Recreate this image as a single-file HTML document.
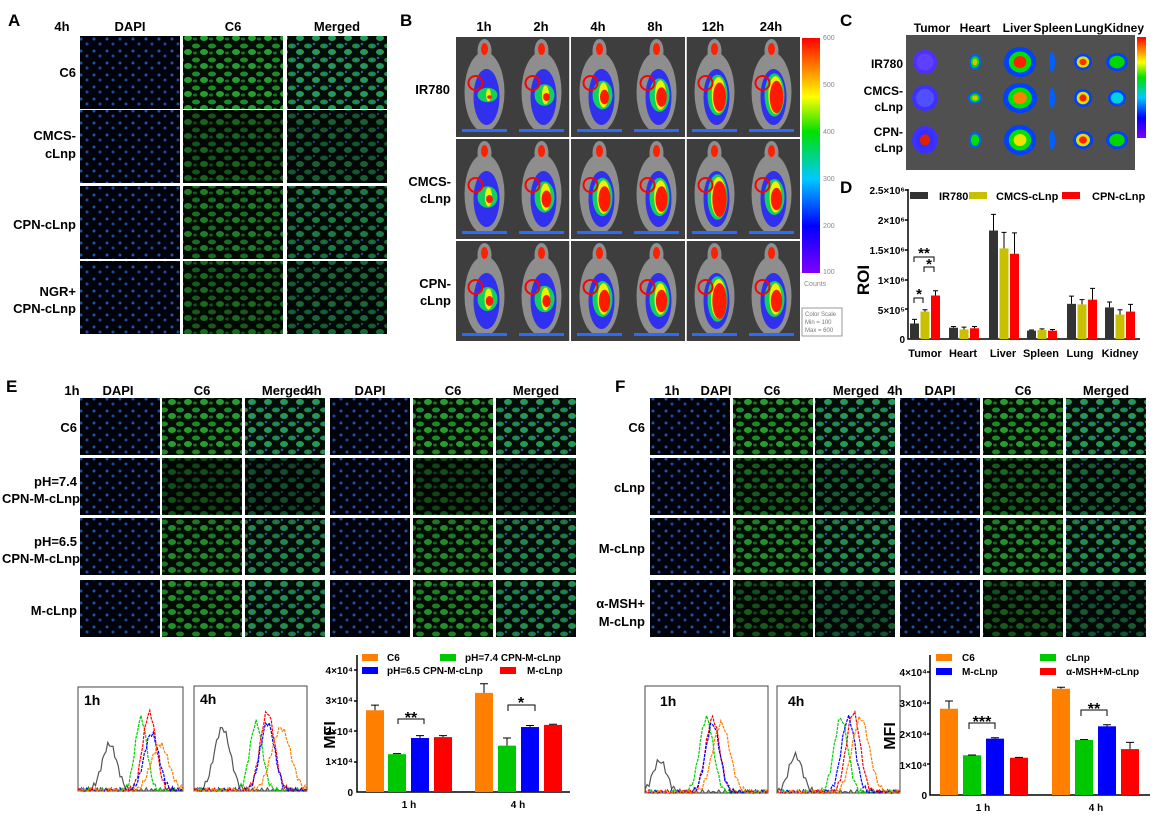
<!DOCTYPE html>
<html><head><meta charset="utf-8">
<style>
html,body{margin:0;padding:0;background:#fff;}
svg{display:block;font-family:"Liberation Sans",Arial,sans-serif;}
.b{font-weight:bold;}
</style></head><body>
<svg id="s" width="1173" height="816" viewBox="0 0 1173 816" xmlns="http://www.w3.org/2000/svg">
<defs>
<pattern id="dapi" width="13" height="12" patternUnits="userSpaceOnUse">
<rect width="13" height="12" fill="#020510"/>
<circle cx="3" cy="3" r="1.5" fill="#2f6fe0"/><circle cx="9" cy="8" r="1.5" fill="#2a62d0"/>
</pattern>
<pattern id="grn" width="16" height="14" patternUnits="userSpaceOnUse">
<rect width="16" height="14" fill="#031006"/>
<ellipse cx="4" cy="4" rx="4" ry="2.5" fill="#27a030"/><ellipse cx="12" cy="10" rx="4" ry="3" fill="#30b83a"/>
<ellipse cx="3" cy="11" rx="2" ry="1.5" fill="#1a8a24"/>
</pattern>
<pattern id="mrg" width="16" height="14" patternUnits="userSpaceOnUse">
<rect width="16" height="14" fill="#03100a"/>
<ellipse cx="4" cy="4" rx="4" ry="2.5" fill="#27a040"/><ellipse cx="12" cy="10" rx="4" ry="3" fill="#30b84a"/>
<circle cx="4" cy="4" r="1.4" fill="#2a9ab0"/><circle cx="12" cy="10" r="1.5" fill="#30a0c0"/><circle cx="10" cy="2" r="1.2" fill="#2f6fe0"/>
</pattern>
<linearGradient id="cb" x1="0" y1="1" x2="0" y2="0">
<stop offset="0" stop-color="#8000ff"/><stop offset="0.2" stop-color="#0000ff"/><stop offset="0.4" stop-color="#00c8ff"/><stop offset="0.6" stop-color="#00e000"/><stop offset="0.75" stop-color="#ffff00"/><stop offset="1" stop-color="#ff0000"/>
</linearGradient>
</defs>
<g id="g"></g>

<g class="b" font-size="17" fill="#000">
<text x="8" y="26">A</text><text x="400" y="26">B</text><text x="840" y="26">C</text><text x="840" y="193">D</text>
<text x="6" y="392">E</text><text x="615" y="392">F</text>
</g>

<g class="b" font-size="13" text-anchor="middle">
<text x="62" y="31">4h</text><text x="130" y="31">DAPI</text><text x="233" y="31">C6</text><text x="337" y="31">Merged</text>
</g>
<g class="b" font-size="13" text-anchor="end">
<text x="76" y="77">C6</text>
<text x="76" y="140">CMCS-</text><text x="76" y="158">cLnp</text>
<text x="76" y="229">CPN-cLnp</text>
<text x="76" y="296">NGR+</text><text x="76" y="313">CPN-cLnp</text>
</g>

<g class="b" font-size="13" text-anchor="middle">
<text x="484" y="31">1h</text><text x="541" y="31">2h</text><text x="598" y="31">4h</text><text x="655" y="31">8h</text><text x="713" y="31">12h</text><text x="771" y="31">24h</text>
</g>
<g class="b" font-size="13" text-anchor="end">
<text x="450" y="94">IR780</text>
<text x="451" y="186">CMCS-</text><text x="451" y="203">cLnp</text>
<text x="451" y="288">CPN-</text><text x="451" y="305">cLnp</text>
</g>
<rect x="802" y="38" width="18" height="235" fill="url(#cb)"/>
<g font-size="7" fill="#888"><text x="823" y="40">600</text><text x="823" y="87">500</text><text x="823" y="134">400</text><text x="823" y="181">300</text><text x="823" y="228">200</text><text x="823" y="274">100</text><text x="804" y="286">Counts</text></g>
<rect x="802" y="308" width="40" height="28" fill="#fff" stroke="#999"/>
<g font-size="6" fill="#777"><text x="805" y="316">Color Scale</text><text x="805" y="324">Min = 100</text><text x="805" y="332">Max = 600</text></g>

<g class="b" font-size="12" text-anchor="middle">
<text x="932" y="32">Tumor</text><text x="975" y="32">Heart</text><text x="1017" y="32">Liver</text><text x="1053" y="32">Spleen</text><text x="1089" y="32">Lung</text><text x="1124" y="32">Kidney</text>
</g>
<g class="b" font-size="12" text-anchor="end">
<text x="903" y="68">IR780</text>
<text x="903" y="95">CMCS-</text><text x="903" y="111">cLnp</text>
<text x="903" y="136">CPN-</text><text x="903" y="152">cLnp</text>
</g>
<rect x="1137" y="37" width="9" height="101" fill="url(#cb)"/>

<g class="b" font-size="10" text-anchor="end">
<text x="905" y="194">2.5×10⁶</text><text x="905" y="224">2×10⁶</text><text x="905" y="254">1.5×10⁶</text><text x="905" y="284">1×10⁶</text><text x="905" y="314">5×10⁵</text><text x="905" y="343">0</text>
</g>
<text class="b" font-size="17" transform="translate(869,280) rotate(-90)" text-anchor="middle">ROI</text>
<g stroke="#000" stroke-width="1.5" fill="none"><path d="M908,189 V339 H1140"/>
<path d="M905,190H908M905,220H908M905,250H908M905,280H908M905,309H908"/></g>
<g id="dbars"></g>
<rect x="910" y="192" width="18" height="7" fill="#333"/><text class="b" x="939" y="200" font-size="11">IR780</text>
<rect x="969" y="192" width="18" height="7" fill="#c8c000"/><text class="b" x="996" y="200" font-size="11">CMCS-cLnp</text>
<rect x="1062" y="192" width="18" height="7" fill="#f00"/><text class="b" x="1092" y="200" font-size="11">CPN-cLnp</text>
<g stroke="#000" stroke-width="1" fill="none"><path d="M914,303V298H923V303M924,272V267H934V272M914,262V257H934V262"/></g>
<g class="b" font-size="15" text-anchor="middle"><text x="919" y="299">*</text><text x="929" y="269">*</text><text x="924" y="258">**</text></g>
<g class="b" font-size="11" text-anchor="middle">
<text x="925" y="357">Tumor</text><text x="963" y="357">Heart</text><text x="1003" y="357">Liver</text><text x="1041" y="357">Spleen</text><text x="1080" y="357">Lung</text><text x="1120" y="357">Kidney</text>
</g>

<g class="b" font-size="13" text-anchor="middle">
<text x="72" y="395">1h</text><text x="118" y="395">DAPI</text><text x="202" y="395">C6</text><text x="285" y="395">Merged</text>
<text x="314" y="395">4h</text><text x="370" y="395">DAPI</text><text x="453" y="395">C6</text><text x="536" y="395">Merged</text>
</g>
<g class="b" font-size="13" text-anchor="end">
<text x="77" y="432">C6</text>
<text x="77" y="486">pH=7.4</text><text x="80" y="503">CPN-M-cLnp</text>
<text x="77" y="546">pH=6.5</text><text x="80" y="563">CPN-M-cLnp</text>
<text x="77" y="615">M-cLnp</text>
</g>
<g class="b" font-size="13" text-anchor="middle">
<text x="672" y="395">1h</text><text x="716" y="395">DAPI</text><text x="772" y="395">C6</text><text x="856" y="395">Merged</text>
<text x="895" y="395">4h</text><text x="940" y="395">DAPI</text><text x="1023" y="395">C6</text><text x="1106" y="395">Merged</text>
</g>
<g class="b" font-size="13" text-anchor="end">
<text x="645" y="432">C6</text>
<text x="645" y="492">cLnp</text>
<text x="645" y="553">M-cLnp</text>
<text x="645" y="608">α-MSH+</text><text x="645" y="626">M-cLnp</text>
</g>

<g fill="#fff" stroke="#444" stroke-width="1">
<rect x="78" y="687" width="105" height="104"/><rect x="194" y="686" width="113" height="105"/>
<rect x="645" y="686" width="123" height="107"/><rect x="777" y="686" width="123" height="107"/>
</g>
<g class="b" font-size="14">
<text x="84" y="705">1h</text><text x="200" y="704">4h</text><text x="660" y="706">1h</text><text x="788" y="706">4h</text>
</g>
<g id="hist"></g>

<g class="b" font-size="10" text-anchor="end">
<text x="353" y="674">4×10⁴</text><text x="353" y="704">3×10⁴</text><text x="353" y="735">2×10⁴</text><text x="353" y="765">1×10⁴</text><text x="353" y="796">0</text>
</g>
<text class="b" font-size="16" transform="translate(335,735) rotate(-90)" text-anchor="middle">MFI</text>
<g stroke="#000" stroke-width="1.5" fill="none"><path d="M357,655V792H570"/><path d="M354,670H357M354,701H357M354,731H357M354,762H357"/></g>
<g id="ebars"></g>
<g stroke="#000" stroke-width="1" fill="none"><path d="M398,724V719H424V724M508,711V705H535V711"/></g>
<g class="b" font-size="16" text-anchor="middle"><text x="411" y="723">**</text><text x="521" y="708">*</text></g>
<g class="b" font-size="10" text-anchor="middle"><text x="409" y="808">1 h</text><text x="518" y="808">4 h</text></g>
<rect x="362" y="654" width="16" height="7" fill="#ff8000"/><text class="b" x="387" y="661" font-size="10">C6</text>
<rect x="440" y="654" width="16" height="7" fill="#00c800"/><text class="b" x="465" y="661" font-size="10">pH=7.4 CPN-M-cLnp</text>
<rect x="362" y="667" width="16" height="7" fill="#0000ff"/><text class="b" x="387" y="674" font-size="10">pH=6.5 CPN-M-cLnp</text>
<rect x="500" y="667" width="16" height="7" fill="#ff0000"/><text class="b" x="527" y="674" font-size="10">M-cLnp</text>

<g class="b" font-size="10" text-anchor="end">
<text x="927" y="676">4×10⁴</text><text x="927" y="707">3×10⁴</text><text x="927" y="738">2×10⁴</text><text x="927" y="769">1×10⁴</text><text x="927" y="799">0</text>
</g>
<text class="b" font-size="16" transform="translate(895,736) rotate(-90)" text-anchor="middle">MFI</text>
<g stroke="#000" stroke-width="1.5" fill="none"><path d="M930,655V795H1150"/><path d="M927,672H930M927,703H930M927,734H930M927,764H930"/></g>
<g id="fbars"></g>
<g stroke="#000" stroke-width="1" fill="none"><path d="M969,729V723H995V729M1081,716V710H1107V716"/></g>
<g class="b" font-size="16" text-anchor="middle"><text x="982" y="727">***</text><text x="1094" y="714">**</text></g>
<g class="b" font-size="10" text-anchor="middle"><text x="983" y="811">1 h</text><text x="1096" y="811">4 h</text></g>
<rect x="936" y="654" width="16" height="7" fill="#ff8000"/><text class="b" x="962" y="661" font-size="10">C6</text>
<rect x="1040" y="654" width="16" height="7" fill="#00c800"/><text class="b" x="1066" y="661" font-size="10">cLnp</text>
<rect x="936" y="668" width="16" height="7" fill="#0000ff"/><text class="b" x="962" y="675" font-size="10">M-cLnp</text>
<rect x="1040" y="668" width="16" height="7" fill="#ff0000"/><text class="b" x="1066" y="675" font-size="10">α-MSH+M-cLnp</text>
</svg>
<script>
var NS="http://www.w3.org/2000/svg";
function el(p,t,a){var e=document.createElementNS(NS,t);for(var k in a)e.setAttribute(k,a[k]);p.appendChild(e);return e;}
var g=document.getElementById("g");
function micro(xs,ys,w,h,inten){
 for(var r=0;r<ys.length;r++)for(var c=0;c<xs.length;c++){
  var t=c%3, f=t==0?"url(#dapi)":t==1?"url(#grn)":"url(#mrg)";
  el(g,"rect",{x:xs[c],y:ys[r],width:w,height:h,fill:f});
  if(t>0){var o=1-inten[r];el(g,"rect",{x:xs[c],y:ys[r],width:w,height:h,fill:"#000","fill-opacity":0.15+o*0.7});}
  else el(g,"rect",{x:xs[c],y:ys[r],width:w,height:h,fill:"#000","fill-opacity":0.25});
 }}
micro([80,183,287],[36,110,186,261],100,73,[1,0.55,0.75,0.6]);
micro([80,162,245,330,413,496],[398,458,518,580],80,57,[1,0.4,0.85,0.9]);
micro([650,733,815,900,983,1066],[398,458,518,580],80,57,[1,0.6,0.9,0.5]);
var bx=[456,513,571,628,686,743],by=[37,139,241];
var heat=[[0.3,0.45,0.6,0.7,0.85,0.9],[0.45,0.65,0.8,0.8,0.95,0.75],[0.5,0.55,0.75,0.75,0.95,0.75]];
for(var r=0;r<3;r++)for(var c=0;c<6;c++){
 var x=bx[c],y=by[r],w=57,h=100,cx=x+w/2;
 el(g,"rect",{x:x,y:y,width:w,height:h,fill:"#3e3e3e"});
 el(g,"ellipse",{cx:cx,cy:y+55,rx:20,ry:40,fill:"#8e8e8e"});
 el(g,"ellipse",{cx:cx,cy:y+14,rx:7,ry:12,fill:"#8e8e8e"});
 var k=heat[r][c];
 el(g,"ellipse",{cx:cx+2,cy:y+60,rx:13,ry:28,fill:"#3030ee"});
 el(g,"ellipse",{cx:cx+3,cy:y+58,rx:10,ry:24*k,fill:"#10d060"});
 el(g,"ellipse",{cx:cx+4,cy:y+58,rx:8*k,ry:21*k,fill:"#f0f000"});
 el(g,"ellipse",{cx:cx+5,cy:y+60,rx:7.5*k,ry:20*k*k,fill:"#ff1a00"});
 el(g,"ellipse",{cx:cx,cy:y+12,rx:3.5,ry:6,fill:"#ff2000"});
 el(g,"rect",{x:x+6,y:y+92,width:45,height:3,fill:"#2a6aff"});
 el(g,"circle",{cx:cx-9,cy:y+46,r:7,fill:"none",stroke:"#ff0000","stroke-width":2});
}
el(g,"path",{d:"M456,138H800M456,240H800M570,37V341M686,37V341",stroke:"#fff","stroke-width":1.5,fill:"none"});
el(g,"rect",{x:906,y:35,width:229,height:135,fill:"#505050"});
var ox=[925,975,1020,1052,1083,1117],oy=[62,98,140];
var org=[[[12,12,["#5030ff","#6040ff"]],[6,8,["#0060ff","#00e000","#e0c000"]],[16,15,["#0040ff","#00e000","#ff2000"]],[3,10,["#0060ff"]],[9,8,["#0040ff","#e0e000","#ff3000"]],[11,9,["#0040ff","#00d800"]]],
[[13,13,["#4030ff","#5050ff"]],[7,6,["#0060ff","#00e000","#e0c000"]],[17,15,["#0040ff","#00e000","#ff8000"]],[3,10,["#0060ff"]],[9,9,["#0040ff","#e0e000","#ff2000"]],[9,8,["#0040ff","#00d0e0"]]],
[[13,14,["#4030ff","#3030ff","#e02000"]],[6,8,["#0060ff","#00e000"]],[16,15,["#0040ff","#00e000","#f0e000"]],[3,10,["#0060ff"]],[10,9,["#0040ff","#e0e000","#ff2000"]],[11,9,["#0040ff","#00d800"]]]];
for(var r=0;r<3;r++)for(var c=0;c<6;c++){var o=org[r][c],cols=o[2];
 for(var i=0;i<cols.length;i++){var s=1-i*0.3;el(g,"ellipse",{cx:ox[c],cy:oy[r],rx:o[0]*s,ry:o[1]*s,fill:cols[i]});}}
var db=document.getElementById("dbars");
var dcol=["#333","#c8c000","#f00"];
var dx=[910,949,989,1027,1067,1105];
var dv=[[0.26,0.46,0.73],[0.19,0.16,0.18],[1.82,1.52,1.43],[0.14,0.15,0.14],[0.59,0.58,0.66],[0.53,0.41,0.46]];
var de=[[0.07,0.03,0.08],[0.02,0.04,0.03],[0.27,0.27,0.35],[0.01,0.02,0.02],[0.13,0.08,0.19],[0.09,0.08,0.12]];
var Y=function(v){return 339-v*59.6;};
for(var i=0;i<6;i++)for(var j=0;j<3;j++){var x=dx[i]+j*10.5,v=dv[i][j];
 el(db,"rect",{x:x,y:Y(v),width:9,height:339-Y(v),fill:dcol[j]});
 el(db,"path",{d:"M"+(x+4.5)+","+Y(v)+"V"+Y(v+de[i][j])+"M"+(x+2)+","+Y(v+de[i][j])+"H"+(x+7),stroke:"#000","stroke-width":1});}
function mfi(id,z,sc,xs,vals,errs){var p=document.getElementById(id),c=["#ff8000","#00c800","#0000ff","#ff0000"];
 for(var i=0;i<8;i++){var v=vals[i],x=xs[i],y=z-v*sc,ye=z-(v+errs[i])*sc;
  el(p,"rect",{x:x,y:y,width:18,height:z-y,fill:c[i%4]});
  el(p,"path",{d:"M"+(x+9)+","+y+"V"+ye+"M"+(x+5)+","+ye+"H"+(x+13),stroke:"#000","stroke-width":1});}}
mfi("ebars",792,30.5,[366,388,411,434,475,498,521,544],[2.68,1.24,1.77,1.8,3.25,1.52,2.13,2.2],[0.17,0.02,0.08,0.05,0.3,0.25,0.05,0.02]);
mfi("fbars",795,30.8,[940,963,986,1010,1052,1075,1098,1121],[2.8,1.29,1.83,1.21,3.45,1.79,2.23,1.49],[0.25,0.01,0.03,0.01,0.05,0.01,0.05,0.22]);
var hg=document.getElementById("hist");
function hist(x0,y0,w,h,peaks){
 for(var i=0;i<peaks.length;i++){var pk=peaks[i],d="";
  for(var t=0;t<=60;t++){var x=x0+w*t/60;var u=(x-x0)/w;var v=pk[1]*Math.exp(-Math.pow((u-pk[0])/pk[2],2));v+=0.03*Math.sin(t*2.3+i);
   var y=y0+h-Math.max(0,v)*h;d+=(t?"L":"M")+x.toFixed(1)+","+y.toFixed(1);}
  el(hg,"path",{d:d,stroke:pk[3],fill:"none","stroke-width":1.2,"stroke-dasharray":pk[3]=="#555"?"":"3,1"});}}
hist(78,687,105,104,[[0.3,0.45,0.1,"#555"],[0.6,0.7,0.08,"#00d000"],[0.68,0.75,0.09,"#ff0000"],[0.7,0.55,0.1,"#0000ff"],[0.78,0.45,0.12,"#ff8000"]]);
hist(194,686,113,105,[[0.25,0.6,0.1,"#555"],[0.55,0.65,0.08,"#00d000"],[0.65,0.75,0.09,"#ff0000"],[0.65,0.65,0.09,"#0000ff"],[0.77,0.6,0.12,"#ff8000"]]);
hist(645,686,123,107,[[0.12,0.3,0.08,"#555"],[0.5,0.7,0.08,"#00d000"],[0.55,0.7,0.08,"#ff0000"],[0.55,0.65,0.08,"#0000ff"],[0.62,0.65,0.1,"#ff8000"]]);
hist(777,686,123,107,[[0.15,0.35,0.08,"#555"],[0.52,0.7,0.08,"#00d000"],[0.62,0.75,0.08,"#ff0000"],[0.58,0.7,0.08,"#0000ff"],[0.68,0.7,0.1,"#ff8000"]]);
</script>
</body></html>
